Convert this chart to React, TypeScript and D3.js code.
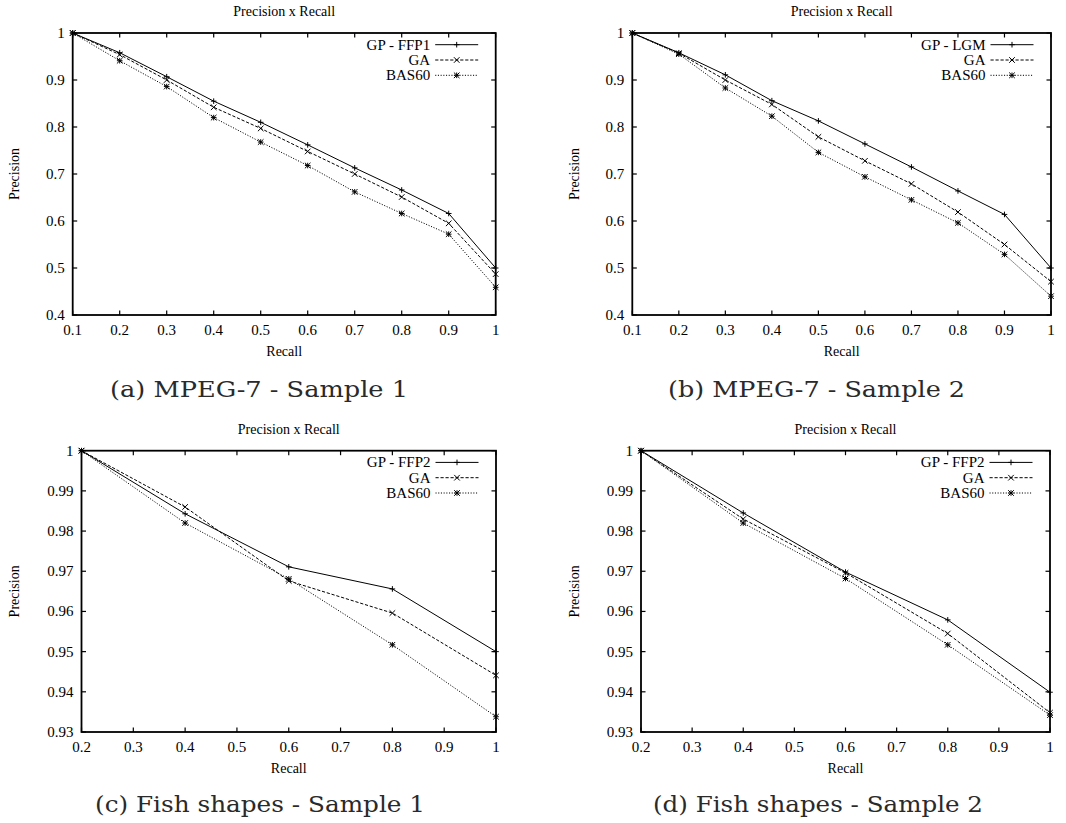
import React from "react";
import * as d3 from "d3";

// ---------- data ----------
const recallMpeg = [0.1, 0.2, 0.3, 0.4, 0.5, 0.6, 0.7, 0.8, 0.9, 1.0];
const recallFish = [0.2, 0.4, 0.6, 0.8, 1.0];

const aGP = [1, 0.958, 0.907, 0.855, 0.81, 0.762, 0.713, 0.666, 0.616, 0.5];
const aGA = [1, 0.954, 0.9, 0.842, 0.797, 0.748, 0.7, 0.651, 0.595, 0.487];
const aBAS = [1, 0.941, 0.886, 0.82, 0.768, 0.718, 0.662, 0.616, 0.572, 0.459];

const bGP = [1, 0.958, 0.911, 0.856, 0.813, 0.764, 0.715, 0.664, 0.614, 0.5];
const bGA = [1, 0.957, 0.9, 0.848, 0.779, 0.728, 0.679, 0.619, 0.55, 0.471];
const bBAS = [1, 0.955, 0.883, 0.823, 0.746, 0.694, 0.645, 0.596, 0.529, 0.44];

const cGP = [1, 0.9843, 0.9711, 0.9656, 0.95];
const cGA = [1, 0.986, 0.9676, 0.9596, 0.9441];
const cBAS = [1, 0.982, 0.9681, 0.9517, 0.9338];

const dGP = [1, 0.9845, 0.9698, 0.9579, 0.9399];
const dGA = [1, 0.983, 0.9696, 0.9545, 0.9348];
const dBAS = [1, 0.982, 0.9682, 0.9517, 0.9342];

const xTicksMpeg = [0.1, 0.2, 0.3, 0.4, 0.5, 0.6, 0.7, 0.8, 0.9, 1];
const yTicksMpeg = [0.4, 0.5, 0.6, 0.7, 0.8, 0.9, 1];
const xTicksFish = [0.2, 0.3, 0.4, 0.5, 0.6, 0.7, 0.8, 0.9, 1];
const yTicksFish = [0.93, 0.94, 0.95, 0.96, 0.97, 0.98, 0.99, 1];

const gpNames = ["GP - FFP1", "GP - LGM", "GP - FFP2", "GP - FFP2"];
const otherNames = ["GA", "BAS60"];
const captions = [
  "(a) MPEG-7 - Sample 1",
  "(b) MPEG-7 - Sample 2",
  "(c) Fish shapes - Sample 1",
  "(d) Fish shapes - Sample 2",
];

// ---------- layout ----------
type Panel = {
  box: { x0: number; x1: number; y0: number; y1: number };
  xDomain: [number, number];
  yDomain: [number, number];
  xTicks: number[];
  yTicks: number[];
  recall: number[];
  series: number[][];
  gpName: string;
  caption: string;
  capX: number;
  capW: number;
  capY: number;
  ylabX: number;
};

const panels: Panel[] = [
  {
    box: { x0: 72.7, x1: 495.7, y0: 33, y1: 315 },
    xDomain: [0.1, 1], yDomain: [0.4, 1],
    xTicks: xTicksMpeg, yTicks: yTicksMpeg, recall: recallMpeg,
    series: [aGP, aGA, aBAS], gpName: gpNames[0], caption: captions[0],
    capX: 110, capW: 298, capY: 396.5, ylabX: 19,
  },
  {
    box: { x0: 632.3, x1: 1051, y0: 33, y1: 315 },
    xDomain: [0.1, 1], yDomain: [0.4, 1],
    xTicks: xTicksMpeg, yTicks: yTicksMpeg, recall: recallMpeg,
    series: [bGP, bGA, bBAS], gpName: gpNames[1], caption: captions[1],
    capX: 668, capW: 297, capY: 396.5, ylabX: 579,
  },
  {
    box: { x0: 81.5, x1: 496, y0: 450.7, y1: 732 },
    xDomain: [0.2, 1], yDomain: [0.93, 1],
    xTicks: xTicksFish, yTicks: yTicksFish, recall: recallFish,
    series: [cGP, cGA, cBAS], gpName: gpNames[2], caption: captions[2],
    capX: 95, capW: 330, capY: 811.5, ylabX: 19,
  },
  {
    box: { x0: 641, x1: 1050, y0: 450.7, y1: 732 },
    xDomain: [0.2, 1], yDomain: [0.93, 1],
    xTicks: xTicksFish, yTicks: yTicksFish, recall: recallFish,
    series: [dGP, dGA, dBAS], gpName: gpNames[3], caption: captions[3],
    capX: 653, capW: 330, capY: 811.5, ylabX: 579,
  },
];

const dashes = [null, "3.2,1.8", "1.1,1.6"];
const markerTypes = ["plus", "cross", "star"];
const fontSerif = "'Liberation Serif', 'Times New Roman', Times, serif";
const fontCaption = "'DejaVu Serif', serif";
const fmt = (v: number) => d3.format("~g")(v);

function Marker({ x, y, type }: { x: number; y: number; type: string }) {
  const s = 2.8;
  const plus = `M${x - s},${y}H${x + s}M${x},${y - s}V${y + s}`;
  const cross = `M${x - s},${y - s}L${x + s},${y + s}M${x - s},${y + s}L${x + s},${y - s}`;
  const d = type === "plus" ? plus : type === "cross" ? cross : plus + cross;
  return <path d={d} stroke="#000" strokeWidth={1} fill="none" />;
}

function Chart({ p }: { p: Panel }) {
  const { x0, x1, y0, y1 } = p.box;
  const x = d3.scaleLinear().domain(p.xDomain).range([x0, x1]);
  const y = d3.scaleLinear().domain(p.yDomain).range([y1, y0]);
  const line = d3
    .line<number>()
    .x((_, i) => x(p.recall[i]))
    .y((d) => y(d));
  const tl = 4.5;
  const cx = (x0 + x1) / 2;
  const cy = (y0 + y1) / 2;
  const names = [p.gpName, ...otherNames];
  return (
    <g>
      <text x={cx} y={y0 - 17} textAnchor="middle" fontSize={14} fontFamily={fontSerif}>
        Precision x Recall
      </text>
      {/* ticks */}
      {p.yTicks.map((t) => (
        <g key={"y" + t}>
          <line x1={x0} x2={x0 + tl} y1={y(t)} y2={y(t)} stroke="#000" strokeWidth={1.2} />
          <line x1={x1} x2={x1 - tl} y1={y(t)} y2={y(t)} stroke="#000" strokeWidth={1.2} />
          <text x={x0 - 8} y={y(t) + 5} textAnchor="end" fontSize={15} fontFamily={fontSerif}>
            {fmt(t)}
          </text>
        </g>
      ))}
      {p.xTicks.map((t) => (
        <g key={"x" + t}>
          <line x1={x(t)} x2={x(t)} y1={y1} y2={y1 - tl} stroke="#000" strokeWidth={1.2} />
          <line x1={x(t)} x2={x(t)} y1={y0} y2={y0 + tl} stroke="#000" strokeWidth={1.2} />
          <text x={x(t)} y={y1 + 20} textAnchor="middle" fontSize={15} fontFamily={fontSerif}>
            {fmt(t)}
          </text>
        </g>
      ))}
      {/* series */}
      {p.series.map((s, i) => (
        <g key={"s" + i}>
          <path
            d={line(s) || ""}
            fill="none"
            stroke="#000"
            strokeWidth={1}
            strokeDasharray={dashes[i] || undefined}
          />
          {s.map((v, j) => (
            <Marker key={j} x={x(p.recall[j])} y={y(v)} type={markerTypes[i]} />
          ))}
        </g>
      ))}
      {/* frame */}
      <rect x={x0} y={y0} width={x1 - x0} height={y1 - y0} fill="none" stroke="#000" strokeWidth={1.8} />
      {/* legend */}
      {names.map((n, i) => {
        const ly = y0 + 11.7 + 15.3 * i;
        const lx1 = x1 - 60.5;
        const lx2 = x1 - 17.5;
        return (
          <g key={"l" + i}>
            <text x={lx1 - 5} y={ly + 5} textAnchor="end" fontSize={15} fontFamily={fontSerif}>
              {n}
            </text>
            <line
              x1={lx1}
              x2={lx2}
              y1={ly}
              y2={ly}
              stroke="#000"
              strokeWidth={1}
              strokeDasharray={dashes[i] || undefined}
            />
            <Marker x={(lx1 + lx2) / 2} y={ly} type={markerTypes[i]} />
          </g>
        );
      })}
      {/* axis labels */}
      <text x={cx} y={y1 + 41} textAnchor="middle" fontSize={14} fontFamily={fontSerif}>
        Recall
      </text>
      <text
        transform={`translate(${p.ylabX},${cy}) rotate(-90)`}
        textAnchor="middle"
        fontSize={14}
        fontFamily={fontSerif}
      >
        Precision
      </text>
      {/* caption */}
      <text
        x={p.capX}
        y={p.capY}
        fontSize={22}
        fontFamily={fontCaption}
        textLength={p.capW}
        lengthAdjust="spacingAndGlyphs"
        fill="#2a2a2a"
      >
        {p.caption}
      </text>
    </g>
  );
}

export default function App() {
  return (
    <svg
      width={1066}
      height={823}
      style={{ position: "absolute", left: 0, top: 0, background: "#fff" }}
    >
      <rect width={1066} height={823} fill="#fff" />
      {panels.map((p, i) => (
        <Chart key={i} p={p} />
      ))}
    </svg>
  );
}
